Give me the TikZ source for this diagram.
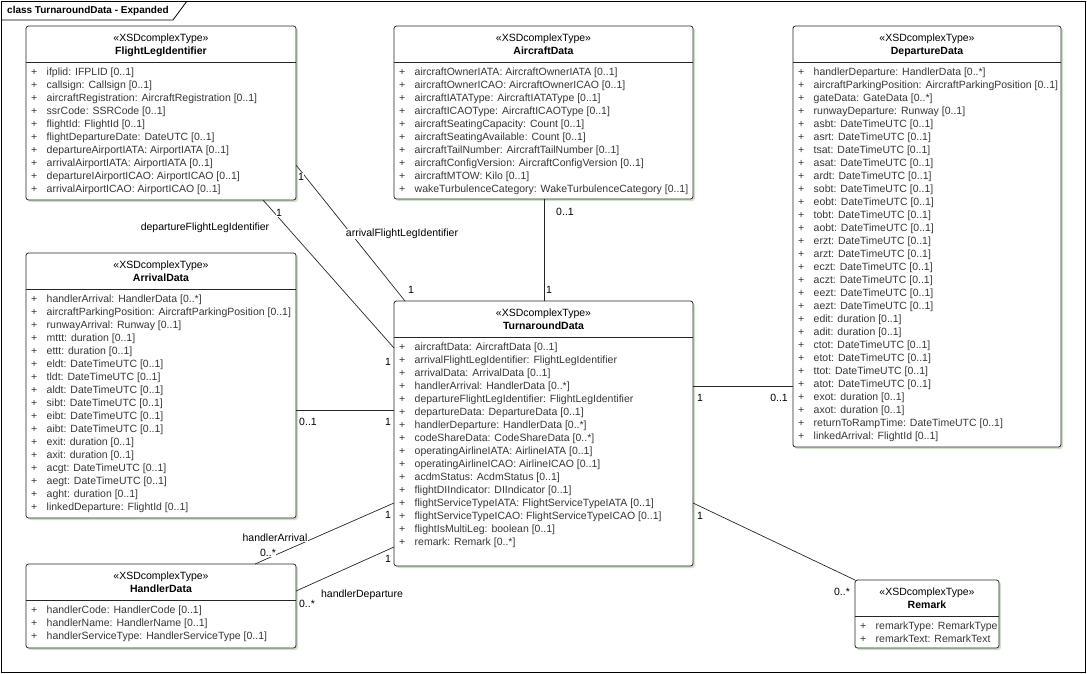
\documentclass[tikz,border=0pt]{standalone}
\usepackage{fontspec}
\setmainfont{Liberation Sans}
\usetikzlibrary{calc}

\definecolor{shadowgreen}{RGB}{208,226,198}
\definecolor{attrgray}{RGB}{55,55,55}
\newcommand{\umlfont}{\fontsize{10.5}{13}\selectfont}

\tikzstyle{classbox}=[draw=black!85,line width=0.8pt,rounded corners=2.5pt,fill=white,inner sep=0pt,outer sep=0pt,anchor=north west]
\tikzstyle{classshadow}=[fill=shadowgreen,rounded corners=2.5pt]
\tikzstyle{headtext}=[inner sep=0pt,text height=7.5pt,text depth=2pt,font=\umlfont]
\tikzstyle{attrtext}=[inner sep=0pt,text height=7.5pt,text depth=2pt,anchor=west,text=attrgray,font=\umlfont]
\tikzstyle{assoc}=[line width=0.7pt,black!85]
\tikzstyle{multiplicity}=[inner sep=0.5pt,fill=white,font=\umlfont]
\tikzstyle{rolename}=[inner sep=0.5pt,fill=white,font=\umlfont]

\newcommand{\drawclass}[7]{
% #1 node name, #2 #3 top left, #4 width, #5 height, #6 class name, #7 attributes
\fill[classshadow] (#2+2,#3+2) rectangle ++(#4,#5);
\node[classbox,minimum width=#4,minimum height=#5] (#1) at (#2,#3) {};
\node[headtext] (#1-st) at ($(#1.north)+(0,13)$) {«XSDcomplexType»};
\node[headtext,font=\umlfont\bfseries] (#1-nm) at ($(#1.north)+(0,26)$) {#6};
\draw[line width=0.8pt,black!85] ($(#1.north west)+(0,36)$) -- ($(#1.north east)+(0,36)$);
  \foreach \a [count=\i] in {#7} {
    \pgfmathsetmacro{\y}{47.2+13*(\i-1)}
    \node[attrtext] (#1-p\i) at ($(#1.north west)+(5,\y)$) {+};
    \node[attrtext] (#1-a\i) at ($(#1.north west)+(20.5,\y)$) {\a};
  }
}

\begin{document}
\begin{tikzpicture}[x=1pt,y=-1pt]
  \useasboundingbox (0,0) rectangle (1087,674);
  % frame and its tab
  \draw[line width=0.8pt] (1,1) rectangle (1085,672);
  \draw[line width=0.8pt] (1,20) -- (173,20) -- (187,1);
  \node[anchor=west,inner sep=0pt,font=\fontsize{10}{12}\selectfont\bfseries] (title) at (7,11) {class TurnaroundData - Expanded};

  \drawclass{fli}{26}{26}{270}{174}{FlightLegIdentifier}{{ifplid: IFPLID [0..1]},{callsign: Callsign [0..1]},{aircraftRegistration: AircraftRegistration [0..1]},{ssrCode: SSRCode [0..1]},{flightId: FlightId [0..1]},{flightDepartureDate: DateUTC [0..1]},{departureAirportIATA: AirportIATA [0..1]},{arrivalAirportIATA: AirportIATA [0..1]},{departureIAirportICAO: AirportICAO [0..1]},{arrivalAirportICAO: AirportICAO [0..1]}}

  \drawclass{acd}{394}{26}{299}{173}{AircraftData}{{aircraftOwnerIATA: AircraftOwnerIATA [0..1]},{aircraftOwnerICAO: AircraftOwnerICAO [0..1]},{aircraftIATAType: AircraftIATAType [0..1]},{aircraftICAOType: AircraftICAOType [0..1]},{aircraftSeatingCapacity: Count [0..1]},{aircraftSeatingAvailable: Count [0..1]},{aircraftTailNumber: AircraftTailNumber [0..1]},{aircraftConfigVersion: AircraftConfigVersion [0..1]},{aircraftMTOW: Kilo [0..1]},{wakeTurbulenceCategory: WakeTurbulenceCategory [0..1]}}

  \drawclass{dpd}{793}{26}{268}{421}{DepartureData}{{handlerDeparture: HandlerData [0..*]},{aircraftParkingPosition: AircraftParkingPosition [0..1]},{gateData: GateData [0..*]},{runwayDeparture: Runway [0..1]},{asbt: DateTimeUTC [0..1]},{asrt: DateTimeUTC [0..1]},{tsat: DateTimeUTC [0..1]},{asat: DateTimeUTC [0..1]},{ardt: DateTimeUTC [0..1]},{sobt: DateTimeUTC [0..1]},{eobt: DateTimeUTC [0..1]},{tobt: DateTimeUTC [0..1]},{aobt: DateTimeUTC [0..1]},{erzt: DateTimeUTC [0..1]},{arzt: DateTimeUTC [0..1]},{eczt: DateTimeUTC [0..1]},{aczt: DateTimeUTC [0..1]},{eezt: DateTimeUTC [0..1]},{aezt: DateTimeUTC [0..1]},{edit: duration [0..1]},{adit: duration [0..1]},{ctot: DateTimeUTC [0..1]},{etot: DateTimeUTC [0..1]},{ttot: DateTimeUTC [0..1]},{atot: DateTimeUTC [0..1]},{exot: duration [0..1]},{axot: duration [0..1]},{returnToRampTime: DateTimeUTC [0..1]},{linkedArrival: FlightId [0..1]}}

  \drawclass{ard}{26}{253}{270}{265}{ArrivalData}{{handlerArrival: HandlerData [0..*]},{aircraftParkingPosition: AircraftParkingPosition [0..1]},{runwayArrival: Runway [0..1]},{mttt: duration [0..1]},{ettt: duration [0..1]},{eldt: DateTimeUTC [0..1]},{tldt: DateTimeUTC [0..1]},{aldt: DateTimeUTC [0..1]},{sibt: DateTimeUTC [0..1]},{eibt: DateTimeUTC [0..1]},{aibt: DateTimeUTC [0..1]},{exit: duration [0..1]},{axit: duration [0..1]},{acgt: DateTimeUTC [0..1]},{aegt: DateTimeUTC [0..1]},{aght: duration [0..1]},{linkedDeparture: FlightId [0..1]}}

  \drawclass{tad}{394}{301}{299}{265}{TurnaroundData}{{aircraftData: AircraftData [0..1]},{arrivalFlightLegIdentifier: FlightLegIdentifier},{arrivalData: ArrivalData [0..1]},{handlerArrival: HandlerData [0..*]},{departureFlightLegIdentifier: FlightLegIdentifier},{departureData: DepartureData [0..1]},{handlerDeparture: HandlerData [0..*]},{codeShareData: CodeShareData [0..*]},{operatingAirlineIATA: AirlineIATA [0..1]},{operatingAirlineICAO: AirlineICAO [0..1]},{acdmStatus: AcdmStatus [0..1]},{flightDIIndicator: DIIndicator [0..1]},{flightServiceTypeIATA: FlightServiceTypeIATA [0..1]},{flightServiceTypeICAO: FlightServiceTypeICAO [0..1]},{flightIsMultiLeg: boolean [0..1]},{remark: Remark [0..*]}}

  \drawclass{hdd}{26}{564}{270}{84}{HandlerData}{{handlerCode: HandlerCode [0..1]},{handlerName: HandlerName [0..1]},{handlerServiceType: HandlerServiceType [0..1]}}

  \drawclass{rmk}{855}{580}{144}{68}{Remark}{{remarkType: RemarkType},{remarkText: RemarkText}}

  % associations
  \draw[assoc] (fli.east |- 0,165) -- (tad.north -| 405,0); %arrivalFlightLegIdentifier
  \draw[assoc] (fli.south -| 263,0) -- (tad.west |- 0,348); %departureFlightLegIdentifier
  \draw[assoc] (acd.south -| 544,0) -- (tad.north -| 544,0); %aircraftData
  \draw[assoc] (ard.east |- 0,410) -- (tad.west |- 0,410); %arrivalData
  \draw[assoc] (tad.east |- 0,386) -- (dpd.west |- 0,386); %departureData
  \draw[assoc] (hdd.north -| 255,0) -- (tad.west |- 0,503); %handlerArrival
  \draw[assoc] (hdd.east |- 0,591) -- (tad.west |- 0,547); %handlerDeparture
  \draw[assoc] (tad.east |- 0,503) -- (rmk.north west); %remark

  % role names and multiplicities
  \node[multiplicity] (m1a) at (301,177) {1};
  \node[multiplicity] (m1b) at (411,290) {1};
  \node[rolename] (r1) at (402,234) {arrivalFlightLegIdentifier};
  \node[multiplicity] (m2a) at (279,213) {1};
  \node[multiplicity] (m2b) at (388,362) {1};
  \node[rolename] (r2) at (205,228) {departureFlightLegIdentifier};
  \node[multiplicity] (m3a) at (565,212) {0..1};
  \node[multiplicity] (m3b) at (549,290) {1};
  \node[multiplicity] (m4a) at (308,422) {0..1};
  \node[multiplicity] (m4b) at (388,422) {1};
  \node[multiplicity] (m5a) at (700,398) {1};
  \node[multiplicity] (m5b) at (779,398) {0..1};
  \node[rolename] (r6) at (275,538) {handlerArrival};
  \node[multiplicity] (m6a) at (268,553) {0..*};
  \node[multiplicity] (m6b) at (388,515) {1};
  \node[rolename] (r7) at (362,595) {handlerDeparture};
  \node[multiplicity] (m7a) at (307,604) {0..*};
  \node[multiplicity] (m7b) at (388,559) {1};
  \node[multiplicity] (m8a) at (700,516) {1};
  \node[multiplicity] (m8b) at (842,592) {0..*};
\end{tikzpicture}
\end{document}
